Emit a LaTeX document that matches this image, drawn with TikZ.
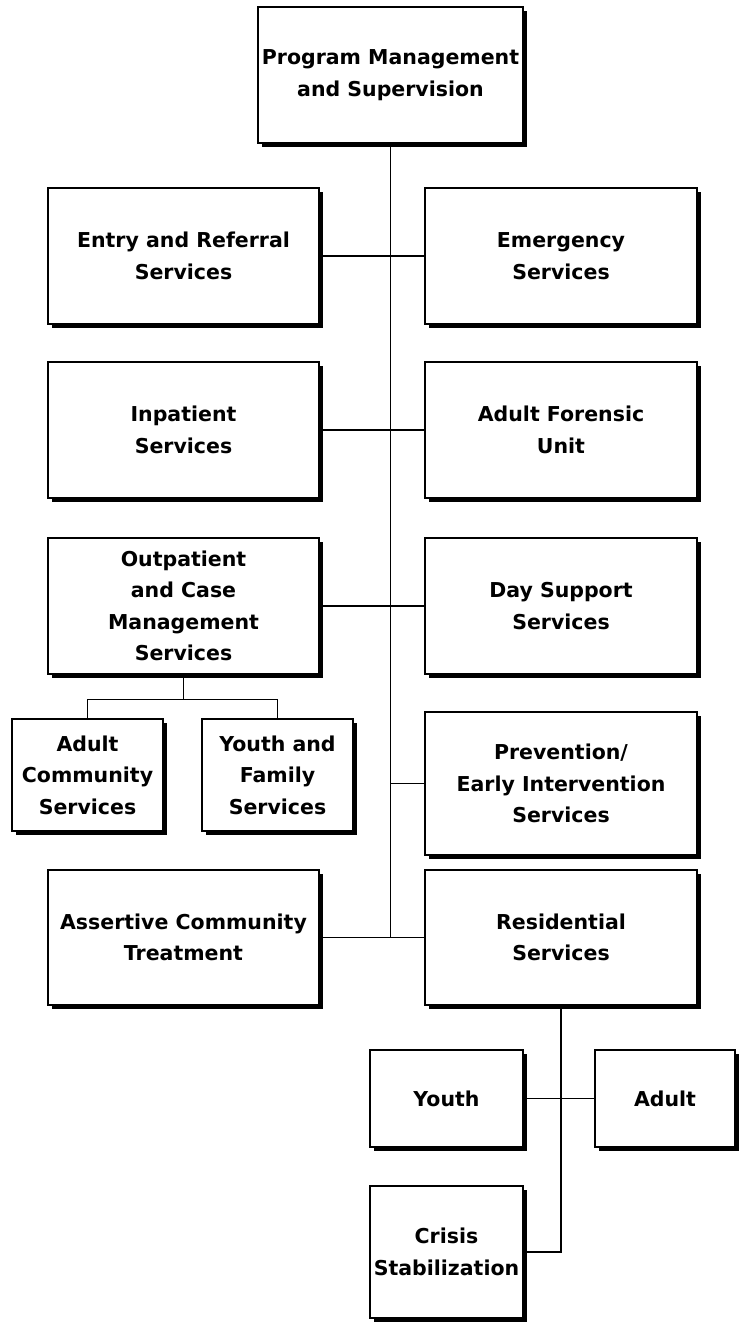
\documentclass[tikz,border=0pt]{standalone}
\usepackage{fontspec}
\setmainfont{DejaVu Sans}
\usetikzlibrary{positioning, shadows, calc}
\tikzset{
  every picture/.style={line width=1.6pt},
  box/.style 2 args={draw, fill=white, line width=1.2pt, align=center, inner sep=2pt,
    minimum width=#1pt, minimum height=#2pt,
    font=\fontsize{20.5}{31.5}\selectfont\bfseries,
    drop shadow={shadow xshift=4pt, shadow yshift=-4pt, fill=black, opacity=1}},
  link/.style={draw=black, line width=1.6pt},
}

\begin{document}
\begin{tikzpicture}[x=1pt, y=-1pt]
  \useasboundingbox (0,0) rectangle (739,1322);
  % top of the chart
  \node[box={265}{136}] (pm) at (390.5,75) {Program Management\\and Supervision};
  % left column
  \node[box={271}{136}] (entry) at (183.5,256) {Entry and Referral\\Services};
  \node[box={271}{136}] (inpat) at (183.5,430) {Inpatient\\Services};
  \node[box={271}{136}] (outpat) at (183.5,606) {Outpatient\\and Case\\Management\\Services};
  \node[box={151}{112}] (adultc) at (87.5,775) {Adult\\Community\\Services};
  \node[box={151}{112}] (youthf) at (277.5,775) {Youth and\\Family\\Services};
  \node[box={271}{135}] (act) at (183.5,937.5) {Assertive Community\\Treatment};
  % right column
  \node[box={272}{136}] (emerg) at (561,256) {Emergency\\Services};
  \node[box={272}{136}] (foren) at (561,430) {Adult Forensic\\Unit};
  \node[box={272}{136}] (day) at (561,606) {Day Support\\Services};
  \node[box={272}{143}] (prev) at (561,783.5) {Prevention/\\Early Intervention\\Services};
  \node[box={272}{135}] (resid) at (561,937.5) {Residential\\Services};
  % residential branches
  \node[box={153}{97}] (youth) at (446.5,1098.5) {Youth};
  \node[box={140}{97}] (adult) at (665,1098.5) {Adult};
  \node[box={153}{132}] (crisis) at (446.5,1252) {Crisis\\Stabilization};
  % connectors
  \draw[link] (pm.south) -- (pm.south |- act.east);
  \foreach \l/\r in {entry/emerg, inpat/foren, outpat/day, act/resid}
    \draw[link] (\l.east) -- (\r.west);
  \draw[link] (pm.south |- prev.west) -- (prev.west);
  \draw[link] (outpat.south) -- ++(0,25) coordinate (ob);
  \draw[link] (adultc.north) |- (ob) -| (youthf.north);
  \draw[link] (resid.south) |- (crisis.east);
  \draw[link] (youth.east) -- (adult.west);
\end{tikzpicture}
\end{document}
